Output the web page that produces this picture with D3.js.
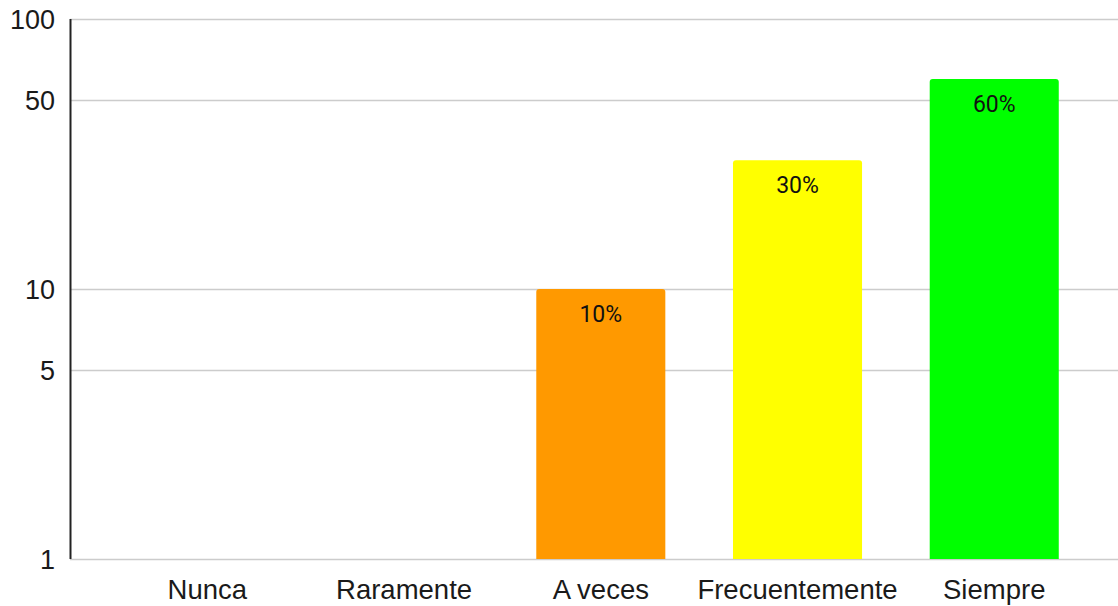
<!DOCTYPE html>
<html><head><meta charset="utf-8">
<script src="https://cdn.jsdelivr.net/npm/d3@7"></script>
<style>body{margin:0;background:#fff}svg{display:block}</style>
</head><body>
<svg id="c" width="1118" height="606"></svg>
<script>
const categories = ["Nunca","Raramente","A veces","Frecuentemente","Siempre"];
const values = [0, 0, 10, 30, 60];
const labels = ["", "", "10%", "30%", "60%"];
const colors = ["#ff9900","#ff9900","#ff9900","#ffff00","#00ff00"];
const yTicks = [1, 5, 10, 50, 100];

(function () {
const svg = d3.select("#c");
const mLeft = 70, mRight = 1118, mTop = 19, mBottom = 559;
const x = d3.scaleBand().domain(categories).range([109, 1092.6]).paddingInner(0.344).paddingOuter(0.172);
const y = d3.scaleLog().domain([1, 100]).range([mBottom, mTop]);

// gridlines
svg.append("g").selectAll("line").data(yTicks).join("line")
  .attr("x1", mLeft).attr("x2", mRight)
  .attr("y1", d => Math.round(y(d)) + 0.5).attr("y2", d => Math.round(y(d)) + 0.5)
  .attr("stroke", "#cccccc").attr("stroke-width", 1.5);

const rows = categories.map((c, i) => ({c, v: values[i], col: colors[i], lab: labels[i]})).filter(d => d.v > 0);

// bars with rounded top corners
const r = 3;
svg.append("g").selectAll("path").data(rows).join("path")
  .attr("d", d => {
    const x0 = x(d.c), w = x.bandwidth(), y0 = y(d.v);
    return `M${x0},${mBottom}V${y0 + r}Q${x0},${y0} ${x0 + r},${y0}H${x0 + w - r}Q${x0 + w},${y0} ${x0 + w},${y0 + r}V${mBottom}Z`;
  })
  .attr("fill", d => d.col);

// bar labels
svg.append("g").selectAll("text").data(rows).join("text")
  .attr("x", d => x(d.c) + x.bandwidth() / 2)
  .attr("y", d => y(d.v) + 33)
  .attr("text-anchor", "middle")
  .attr("font-family", "Roboto, sans-serif").attr("font-size", 23)
  .attr("fill", "#111")
  .text(d => d.lab);

// y axis line
svg.append("line").attr("x1", mLeft + 0.5).attr("x2", mLeft + 0.5).attr("y1", mTop).attr("y2", mBottom)
  .attr("stroke", "#222").attr("stroke-width", 2);

// y tick labels
svg.append("g").selectAll("text").data(yTicks).join("text")
  .attr("x", 55).attr("y", d => y(d)).attr("dy", "0.36em")
  .attr("text-anchor", "end")
  .attr("font-family", "'Liberation Sans', Arial, sans-serif").attr("font-size", 27)
  .attr("fill", "#1a1a1a")
  .text(d => d);

// x labels
svg.append("g").selectAll("text").data(categories).join("text")
  .attr("x", d => x(d) + x.bandwidth() / 2).attr("y", 599)
  .attr("text-anchor", "middle")
  .attr("font-family", "'Liberation Sans', Arial, sans-serif").attr("font-size", 27.5)
  .attr("fill", "#1a1a1a")
  .text(d => d);
})();
</script>
</body></html>
